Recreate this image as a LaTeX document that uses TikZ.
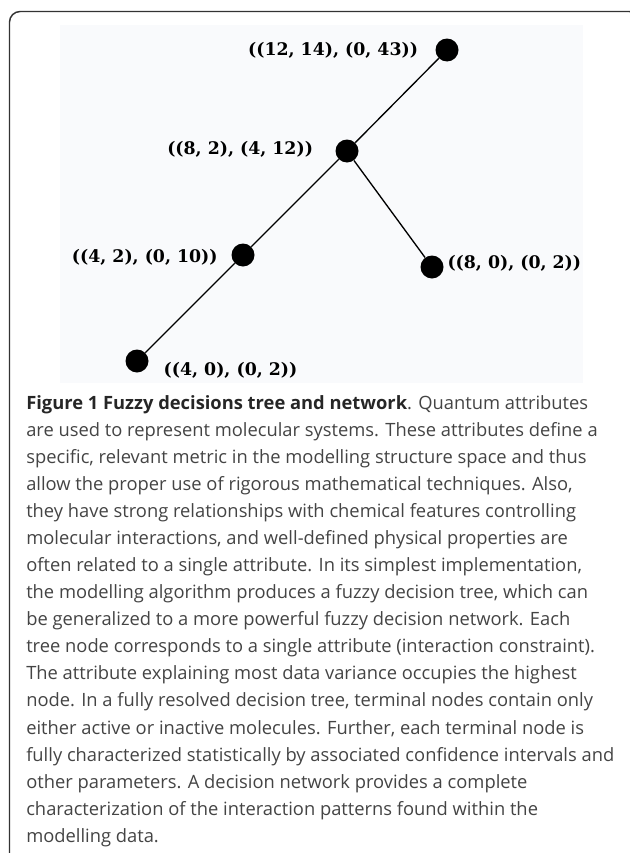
\documentclass[tikz,border=0pt]{standalone}
\usepackage{fontspec}
\setmainfont{Open Sans}
\newfontfamily\pairfont{DejaVu Serif}
\usetikzlibrary{positioning}
\definecolor{framegray}{HTML}{333333}
\definecolor{figbg}{HTML}{F9FAFC}
\definecolor{captext}{HTML}{444444}

\begin{document}
\begin{tikzpicture}[x=0.75pt,y=-0.75pt,
        dot/.style={circle,fill=black,inner sep=0pt,minimum size=17.25pt},
        pair/.style={font=\pairfont\bfseries\fontsize{13}{15}\selectfont,inner sep=0pt},
        branch/.style={line width=1pt}]
\useasboundingbox (0,0) rectangle (629,853);
% frame and figure panel
\draw[framegray,line width=1.1pt,rounded corners=8pt] (9.5,11.5) rectangle (640,870);
\fill[figbg] (60,25) rectangle (583,383);
% tree nodes
        \foreach \n/\x/\y in {top/447/50,mid/347/151,left/243/255,right/432/267,low/137/361} {
                \node[dot] (\n) at (\x,\y) {};
        }
        \node[pair,left=12.75pt of top] (ltop) {((12, 14), (0, 43))};
        \node[pair,left=16.5pt of mid,yshift=1.5pt] (lmid) {((8, 2), (4, 12))};
        \node[pair,left=10pt of left,yshift=-1.5pt] (lleft) {((4, 2), (0, 10))};
        \node[pair,right=2.6pt of right,yshift=3pt] (lright) {((8, 0), (0, 2))};
        \node[pair,right=11pt of low,yshift=-6.75pt] (llow) {((4, 0), (0, 2))};
        \foreach \from/\to in {top/mid,mid/left,left/low,mid/right} {
                \draw[branch] (\from) -- (\to);
        }
% caption
\node[anchor=north west,align=left,inner sep=0pt,text=captext,
      font=\fontsize{13.75}{20.3}\selectfont] (caption) at (26,395) {%
{\color{black!85}\bfseries Figure 1 Fuzzy decisions tree and network}. Quantum attributes\\
are used to represent molecular systems. These attributes define a\\
specific, relevant metric in the modelling structure space and thus\\
allow the proper use of rigorous mathematical techniques. Also,\\
they have strong relationships with chemical features controlling\\
molecular interactions, and well-defined physical properties are\\
often related to a single attribute. In its simplest implementation,\\
the modelling algorithm produces a fuzzy decision tree, which can\\
be generalized to a more powerful fuzzy decision network. Each\\
tree node corresponds to a single attribute (interaction constraint).\\
The attribute explaining most data variance occupies the highest\\
node. In a fully resolved decision tree, terminal nodes contain only\\
either active or inactive molecules. Further, each terminal node is\\
fully characterized statistically by associated confidence intervals and\\
other parameters. A decision network provides a complete\\
characterization of the interaction patterns found within the\\
modelling data.};
\end{tikzpicture}
\end{document}
